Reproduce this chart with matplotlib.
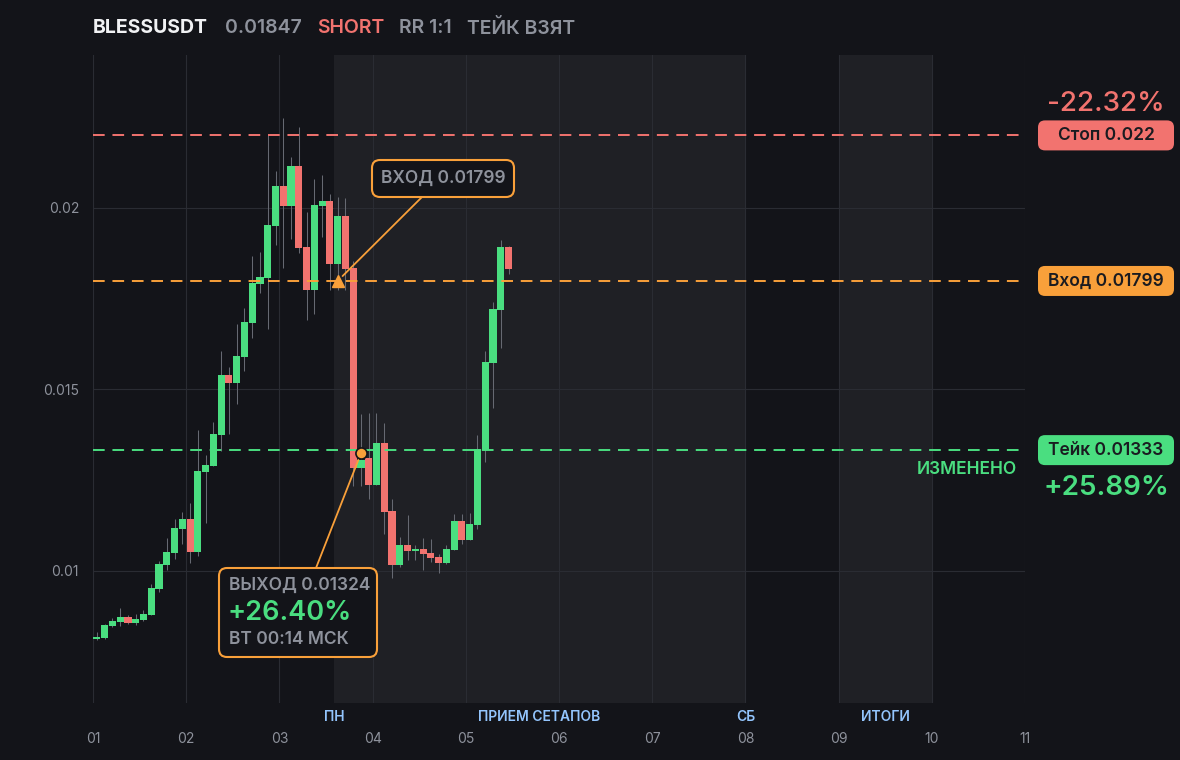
import matplotlib
matplotlib.use("Agg")
import matplotlib.pyplot as plt
from matplotlib.patches import FancyBboxPatch
from matplotlib.transforms import IdentityTransform, blended_transform_factory

plt.rcParams['font.family'] = ['Inter', 'DejaVu Sans']

# ---- data (2h candles) ----
opens = [0.00813, 0.00815, 0.00848, 0.00860, 0.00873, 0.00857, 0.00865, 0.00879, 0.00950, 0.01017,
         0.01050, 0.01116, 0.01143, 0.01052, 0.01273, 0.01289, 0.01374, 0.01540, 0.01518, 0.01590,
         0.01683, 0.01791, 0.01807, 0.01950, 0.02060, 0.02005, 0.02116, 0.01893, 0.01774, 0.02005,
         0.02019, 0.01846, 0.01978, 0.01835, 0.01284, 0.01311, 0.01237, 0.01353, 0.01165, 0.01017,
         0.01072, 0.01055, 0.01061, 0.01050, 0.01039, 0.01022, 0.01058, 0.01138, 0.01085, 0.01127,
         0.01333, 0.01573, 0.01719, 0.01893]
highs = [0.00832, 0.00854, 0.00871, 0.00898, 0.00879, 0.00882, 0.00893, 0.00964, 0.01028, 0.01091,
         0.01143, 0.01163, 0.01187, 0.01388, 0.01320, 0.01410, 0.01606, 0.01562, 0.01680, 0.01725,
         0.01868, 0.01879, 0.02201, 0.02102, 0.02248, 0.02140, 0.02223, 0.01989, 0.02080, 0.02091,
         0.02039, 0.02030, 0.02028, 0.01854, 0.01433, 0.01435, 0.01435, 0.01408, 0.01198, 0.01094,
         0.01154, 0.01072, 0.01091, 0.01088, 0.01047, 0.01072, 0.01157, 0.01157, 0.01160, 0.01375,
         0.01606, 0.01741, 0.01912, 0.01896]
lows = [0.00810, 0.00813, 0.00846, 0.00848, 0.00854, 0.00851, 0.00863, 0.00878, 0.00942, 0.01003,
        0.01033, 0.01074, 0.01022, 0.01041, 0.01132, 0.01289, 0.01331, 0.01377, 0.01460, 0.01551,
        0.01642, 0.01766, 0.01667, 0.01898, 0.01835, 0.01915, 0.01876, 0.01691, 0.01708, 0.01920,
        0.01774, 0.01774, 0.01774, 0.01234, 0.01234, 0.01198, 0.01237, 0.01102, 0.00981, 0.01011,
        0.01030, 0.01030, 0.01003, 0.01025, 0.00994, 0.01020, 0.01058, 0.01074, 0.01085, 0.01116,
        0.01300, 0.01449, 0.01614, 0.01818]
closes = [0.00818, 0.00851, 0.00862, 0.00873, 0.00857, 0.00868, 0.00882, 0.00953, 0.01019, 0.01052,
          0.01118, 0.01143, 0.01052, 0.01276, 0.01292, 0.01377, 0.01540, 0.01518, 0.01592, 0.01686,
          0.01793, 0.01810, 0.01953, 0.02060, 0.02005, 0.02116, 0.01890, 0.01774, 0.02008, 0.02019,
          0.01846, 0.01978, 0.01832, 0.01284, 0.01306, 0.01237, 0.01353, 0.01163, 0.01017, 0.01072,
          0.01055, 0.01061, 0.01047, 0.01036, 0.01022, 0.01061, 0.01138, 0.01085, 0.01129, 0.01336,
          0.01576, 0.01722, 0.01893, 0.01832]

candles_per_day = 12
first_day = 1

day_ticks = [1, 2, 3, 4, 5, 6, 7, 8, 9, 10, 11]
day_labels = ['01', '02', '03', '04', '05', '06', '07', '08', '09', '10', '11']
price_ticks = [0.01, 0.015, 0.02]
price_labels = ['0.01', '0.015', '0.02']

sessions = [(3.585, 8.0), (9.0, 10.0)]
session_labels = [('ПН', 3.585), ('ПРИЕМ СЕТАПОВ', 5.79), ('СБ', 8.0), ('ИТОГИ', 9.5)]

symbol = 'BLESSUSDT'
last_price = '0.01847'
side = 'SHORT'
rr_text = 'RR 1:1'
status = 'ТЕЙК ВЗЯТ'

stop_price = 0.022
entry_price = 0.01799
take_price = 0.01333
exit_price = 0.01324
entry_idx = 31
exit_idx = 34
stop_pct = '-22.32%'
take_pct = '+25.89%'
exit_pct = '+26.40%'
exit_time = 'ВТ 00:14 МСК'

# ---- colours ----
BG = '#131419'
SHADE = '#1f2025'
GRID = '#2a2c33'
GREEN = '#4ade80'
RED = '#f2736f'
ORANGE = '#f9a03a'
GRAY = '#8e929c'
WHITE = '#f1f2f4'
BLUE = '#93c5fd'
WICK = '#666972'

W, H = 1180, 760
fig = plt.figure(figsize=(W / 100, H / 100), dpi=100, facecolor=BG)
ax = fig.add_axes([93 / W, (H - 703) / H, (1025 - 93) / W, (703 - 55) / H])
ax.set_facecolor(BG)
ax.set_xlim(1, 11)
ax.set_ylim(0.006363, 0.024215)
for s in ax.spines.values():
    s.set_visible(False)

for a, b in sessions:
    ax.axvspan(a, b, color=SHADE, zorder=0, lw=0)

for t in day_ticks:
    ax.axvline(t, color=GRID, lw=0.8, zorder=0.5)
for p in price_ticks:
    ax.axhline(p, color=GRID, lw=0.8, zorder=0.5)

# candles
bw = 0.92 / candles_per_day
for i in range(len(opens)):
    x = first_day + (i + 0.5) / candles_per_day
    o, h, l, c = opens[i], highs[i], lows[i], closes[i]
    col = GREEN if c >= o else RED
    ax.vlines(x, l, h, color=WICK, lw=0.75, zorder=2)
    ax.bar(x, abs(c - o), bottom=min(o, c), width=bw, color=col, lw=0, zorder=3)

# levels
for p, col in [(stop_price, RED), (entry_price, ORANGE), (take_price, GREEN)]:
    ax.axhline(p, color=col, lw=1.4, dashes=(6, 4), zorder=4)

# ticks
ax.set_xticks(day_ticks)
ax.set_xticklabels(day_labels)
ax.set_yticks(price_ticks)
ax.set_yticklabels(price_labels)
ax.tick_params(axis='both', length=0, colors=GRAY, labelsize=10)
ax.tick_params(axis='x', pad=21)
ax.tick_params(axis='y', pad=10)

trans = blended_transform_factory(ax.transData, ax.transAxes)
for lab, xpos in session_labels:
    ax.text(xpos, -0.0216, lab, transform=trans, ha='center', va='center',
            color=BLUE, fontsize=10, fontweight='semibold', clip_on=False)

# entry / exit markers
ex = first_day + (entry_idx + 0.5) / candles_per_day
xx = first_day + (exit_idx + 0.5) / candles_per_day
ax.plot(ex, entry_price, marker='^', ms=8, color=ORANGE, zorder=6)
ax.plot(xx, exit_price, marker='o', ms=8, color=ORANGE, mec=BG, mew=1.2, zorder=6)

ident = IdentityTransform()


def box(x0, y0, x1, y1, fc, ec, lw=0, r=6):
    p = FancyBboxPatch((x0, H - y1), x1 - x0, y1 - y0,
                       boxstyle='round,pad=0,rounding_size=%d' % r,
                       transform=ident, fc=fc, ec=ec, lw=lw, zorder=10)
    fig.add_artist(p)


def ftext(x, y, s, **kw):
    fig.text(x / W, 1 - y / H, s, **kw)


ax.annotate('', xy=(ex, entry_price), xycoords='data', xytext=(422, H - 197),
            textcoords='figure pixels',
            arrowprops=dict(arrowstyle='-', color=ORANGE, lw=1.3, shrinkA=0, shrinkB=5), zorder=5)
ax.annotate('', xy=(xx, exit_price), xycoords='data', xytext=(316, H - 568),
            textcoords='figure pixels',
            arrowprops=dict(arrowstyle='-', color=ORANGE, lw=1.3, shrinkA=0, shrinkB=5), zorder=5)

box(372, 160, 514, 197, BG, ORANGE, lw=1.5, r=8)
ftext(443, 178.5, 'ВХОД ' + f'{entry_price:.5f}', ha='center', va='center', color=GRAY,
      fontsize=12.5, fontweight='semibold', zorder=11)

box(219, 568, 377, 657, BG, ORANGE, lw=1.5, r=8)
ftext(229, 585, 'ВЫХОД ' + f'{exit_price:.5f}', ha='left', va='center', color=GRAY,
      fontsize=12.5, fontweight='semibold', zorder=11)
ftext(228, 613, exit_pct, ha='left', va='center', color=GREEN,
      fontsize=19.5, fontweight='semibold', zorder=11)
ftext(229, 640, exit_time, ha='left', va='center', color=GRAY,
      fontsize=12.5, fontweight='semibold', zorder=11)

# right side labels
fig.canvas.draw()
for p, col, lab in [(stop_price, RED, 'Стоп 0.022'), (entry_price, ORANGE, 'Вход 0.01799'),
                    (take_price, GREEN, 'Тейк 0.01333')]:
    yc = H - ax.transData.transform((11, p))[1]
    box(1038, yc - 15, 1174, yc + 15, col, col, r=7)
    ftext(1106, yc + 0.5, lab, ha='center', va='center', color='#1a1b20',
          fontsize=12.5, fontweight='semibold', zorder=11)
    if p == stop_price:
        ftext(1106, yc - 31, stop_pct, ha='center', va='center', color=RED, fontsize=20,
              fontweight='medium', zorder=11)
    if p == take_price:
        ftext(1017, yc + 19, 'ИЗМЕНЕНО', ha='right', va='center', color=GREEN,
              fontsize=12.5, fontweight='semibold', zorder=11)
        ftext(1106, yc + 38, take_pct, ha='center', va='center', color=GREEN, fontsize=20,
              fontweight='semibold', zorder=11)

# header
ftext(93, 28, symbol, ha='left', va='center', color=WHITE, fontsize=14, fontweight='bold')
ftext(225, 28, last_price, ha='left', va='center', color=GRAY, fontsize=14, fontweight='semibold')
ftext(317, 28, side, ha='left', va='center', color=RED, fontsize=14, fontweight='semibold')
ftext(399, 28, rr_text, ha='left', va='center', color=GRAY, fontsize=14, fontweight='semibold')
ftext(467, 28, status, ha='left', va='center', color=GRAY, fontsize=14, fontweight='semibold')

fig.savefig('out.png', dpi=100, facecolor=BG)
